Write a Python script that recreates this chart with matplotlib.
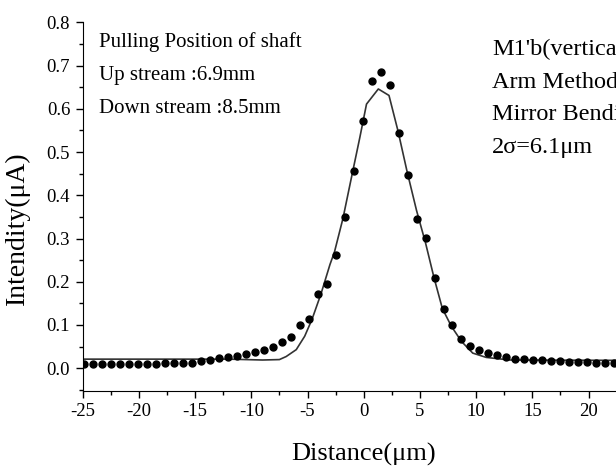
import numpy as np
import matplotlib
matplotlib.use("Agg")
import matplotlib.pyplot as plt
from matplotlib.ticker import MultipleLocator

# measured points (dots)
dot_x = [-24.9, -24.1, -23.3, -22.5, -21.7, -20.9, -20.1, -19.3, -18.5, -17.7,
         -16.9, -16.1, -15.3, -14.5, -13.7, -12.9, -12.1, -11.3, -10.5, -9.7,
         -8.9, -8.1, -7.3, -6.5, -5.7, -4.9, -4.1, -3.3, -2.5, -1.7,
         -0.9, -0.1, 0.7, 1.5, 2.3, 3.1, 3.9, 4.7, 5.5, 6.3,
         7.1, 7.9, 8.7, 9.5, 10.3, 11.1, 11.9, 12.7, 13.5, 14.3,
         15.1, 15.9, 16.7, 17.5, 18.3, 19.1, 19.9, 20.7, 21.5, 22.3,
         23.1, 23.9]
dot_y = [0.010, 0.010, 0.010, 0.010, 0.010, 0.010, 0.010, 0.010, 0.010, 0.011,
         0.012, 0.013, 0.013, 0.016, 0.019, 0.024, 0.026, 0.029, 0.034, 0.038,
         0.043, 0.049, 0.060, 0.072, 0.100, 0.115, 0.171, 0.195, 0.263, 0.350,
         0.457, 0.572, 0.664, 0.685, 0.656, 0.545, 0.448, 0.345, 0.301, 0.209,
         0.138, 0.099, 0.068, 0.052, 0.043, 0.035, 0.030, 0.026, 0.022, 0.021,
         0.019, 0.018, 0.017, 0.016, 0.015, 0.015, 0.014, 0.013, 0.013, 0.012,
         0.012, 0.012]

# fitted curve
fit_x = [-25, -12, -9, -7.5, -6.9, -6.0, -5.25, -4.6, -3.8, -3.0,
         -2.6, -1.85, -1.1, -0.35, 0.25, 1.3, 2.25, 3.05, 3.85, 4.7,
         5.5, 6.25, 7.0, 7.8, 8.7, 9.7, 10.9, 13, 25]
fit_y = [0.021, 0.021, 0.019, 0.020, 0.027, 0.043, 0.074, 0.113, 0.172, 0.240,
         0.269, 0.346, 0.440, 0.533, 0.611, 0.646, 0.631, 0.549, 0.456, 0.365,
         0.290, 0.210, 0.138, 0.097, 0.062, 0.035, 0.025, 0.019, 0.018]

left_notes = ["Pulling Position of shaft", "Up stream :6.9mm", "Down stream :8.5mm"]
right_notes = ["M1'b(vertical)", "Arm Method", "Mirror Bending", "2σ=6.1μm"]

plt.rcParams['font.family'] = ['Liberation Serif', 'DejaVu Serif']
plt.rcParams['axes.unicode_minus'] = False

W, H = 616, 467
fig = plt.figure(figsize=(W / 100, H / 100), dpi=100)
ax = fig.add_axes([82.7 / W, (H - 390.7) / H, 562 / W, (390.7 - 22.4) / H])

ax.plot(fit_x, fit_y, color='#333333', lw=1.2, zorder=2)
ax.plot(dot_x, dot_y, 'o', color='black', ms=5, zorder=3)

ax.set_xlim(-25, 25)
ax.set_ylim(-0.052, 0.8)
ax.xaxis.set_major_locator(MultipleLocator(5))
ax.xaxis.set_minor_locator(MultipleLocator(2.5))
ax.yaxis.set_major_locator(MultipleLocator(0.1))
ax.yaxis.set_minor_locator(MultipleLocator(0.05))
ax.yaxis.set_major_formatter(plt.FormatStrFormatter('%.1f'))
ax.tick_params(which='major', direction='out', length=5, width=1, labelsize=13.5, pad=4)
ax.tick_params(which='minor', direction='out', length=3, width=1)
ax.spines['top'].set_visible(False)
ax.spines['right'].set_visible(False)

ax.set_xlabel("Distance(μm)", fontsize=19, labelpad=16)
ax.set_ylabel("Intendity(μA)", fontsize=20)
ax.yaxis.set_label_coords(-0.093, 0.44)

# annotation blocks (pixel positions of baselines)
for i, s in enumerate(left_notes):
    fig.text(99 / W, (H - (47 + 33 * i)) / H, s, fontsize=15, va='baseline')
for i, s in enumerate(right_notes):
    fig.text(492 / W, (H - (55 + 32.7 * i)) / H, s, fontsize=17.5, va='baseline')

fig.savefig("out.png", dpi=100)
